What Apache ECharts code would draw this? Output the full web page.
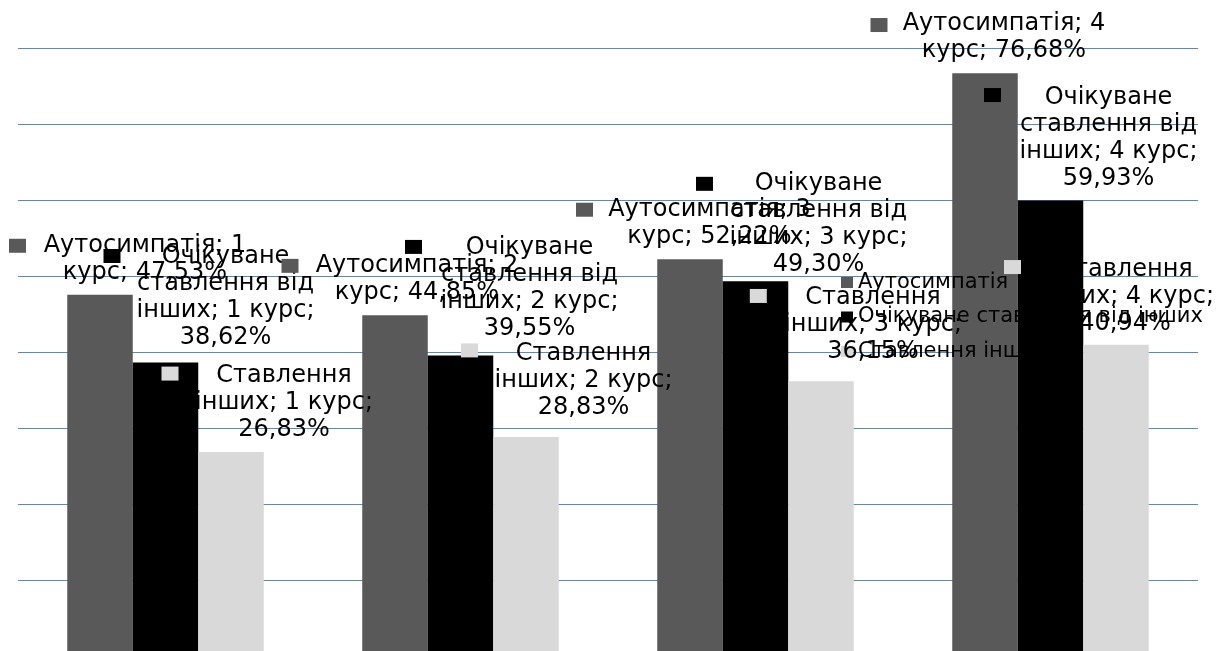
<!DOCTYPE html>
<html>
<head>
<meta charset="utf-8">
<script src="https://cdn.jsdelivr.net/npm/echarts@6/dist/echarts.min.js"></script>
<style>
  html, body { margin: 0; padding: 0; background: #fff; }
  #chart { width: 1219px; height: 651px; }
</style>
</head>
<body>
<div id="chart"></div>
<script>
// Курси (категорії)
const categories = ['1 курс', '2 курс', '3 курс', '4 курс'];

// Назви показників
const seriesNames = ['Аутосимпатія', 'Очікуване ставлення від інших', 'Ставлення інших'];

// Значення, %
const autosympathy = [47.53, 44.85, 52.22, 76.68];
const expectedAttitude = [38.62, 39.55, 49.30, 59.93];
const othersAttitude = [26.83, 28.83, 36.15, 40.94];

const seriesValues = [autosympathy, expectedAttitude, othersAttitude];
const seriesColors = ['#595959', '#000000', '#d9d9d9'];

// Зсуви підписів даних відносно верхнього краю стовпця [dx, dy], px
const labelOffsets = [
  [[45, -8.5], [22, -8.5], [19.5, -8.5], [19, -8.5]],
  [[60, -11.5], [69, -13], [63, -3.5], [58, -8]],
  [[53, -9], [57.5, -15.5], [52, -15.5], [9, -7.5]]
];
// Зсуви квадратиків-ключів підписів [dx, dy], px
const keyOffsets = [
  [[-82.5, -42], [-105, -42.3], [-105.5, -42.4], [-106, -41.2]],
  [[-53.5, -99.5], [-47, -101.5], [-51, -90.5], [-58, -98.5]],
  [[-61, -71.5], [-56.5, -79.5], [-62.7, -78.3], [-103.5, -70.8]]
];

const FONT = 'DejaVu Sans';
const BAR_W = 65.5;
const TEXT_COLOR = '#000000';
const GRID_COLOR = '#5987c7';

function fmtValue(v) {
  return v.toFixed(2).replace('.', ',') + '%';
}

// Перенесення рядка за словами (до maxChars символів у рядку)
function wrap(text, maxChars) {
  const words = text.split(' ');
  const lines = [];
  let cur = '';
  for (const w of words) {
    if (!cur) cur = w;
    else if ((cur + ' ' + w).length <= maxChars) cur += ' ' + w;
    else { lines.push(cur); cur = w; }
  }
  if (cur) lines.push(cur);
  return lines.join('\n');
}

const series = [];

// Стовпці
seriesValues.forEach((vals, s) => {
  series.push({
    name: seriesNames[s],
    type: 'bar',
    xAxisIndex: 0,
    barWidth: BAR_W,
    barGap: '0%',
    z: 2,
    itemStyle: { color: seriesColors[s] },
    data: vals
  });
});

// Текст підписів даних
seriesValues.forEach((vals, s) => {
  series.push({
    name: seriesNames[s] + ' — підписи',
    type: 'bar',
    xAxisIndex: 1,
    barWidth: BAR_W,
    barGap: '0%',
    z: 4,
    silent: true,
    itemStyle: { color: 'rgba(0,0,0,0)' },
    label: {
      show: true,
      position: 'top',
      distance: 0,
      fontFamily: FONT,
      fontSize: 24,
      lineHeight: 27,
      color: TEXT_COLOR,
      align: 'center',
      formatter: p => wrap(seriesNames[s] + '; ' + categories[p.dataIndex] + '; ' + fmtValue(p.value), 15)
    },
    data: vals.map((v, i) => ({ value: v, label: { offset: labelOffsets[s][i] } }))
  });
});

// Квадратики-ключі підписів
seriesValues.forEach((vals, s) => {
  series.push({
    name: seriesNames[s] + ' — ключі',
    type: 'bar',
    xAxisIndex: 2,
    barWidth: BAR_W,
    barGap: '0%',
    z: 5,
    silent: true,
    itemStyle: { color: 'rgba(0,0,0,0)' },
    label: {
      show: true,
      position: 'top',
      distance: 0,
      lineHeight: 14,
      formatter: '{k|}',
      rich: { k: { width: 17, height: 14, lineHeight: 14, backgroundColor: seriesColors[s] } }
    },
    data: vals.map((v, i) => ({ value: v, label: { offset: keyOffsets[s][i] } }))
  });
});

const hiddenX = () => ({
  type: 'category',
  data: categories,
  gridIndex: 0,
  show: false
});

const chart = echarts.init(document.getElementById('chart'), null, { renderer: 'canvas' });
chart.setOption({
  animation: false,
  backgroundColor: '#ffffff',
  grid: {
    left: 18, top: 48, width: 1180, height: 608,
    containLabel: false,
    outerBoundsMode: 'none'
  },
  legend: {
    data: seriesNames,
    orient: 'vertical',
    left: 836,
    top: 267,
    z: 4,
    icon: 'rect',
    itemWidth: 12,
    itemHeight: 11,
    itemGap: 13.5,
    selectedMode: false,
    textStyle: { fontFamily: FONT, fontSize: 21, lineHeight: 20, color: TEXT_COLOR }
  },
  xAxis: [
    {
      type: 'category',
      data: categories,
      axisLine: { show: true, lineStyle: { color: GRID_COLOR } },
      axisTick: { show: false },
      axisLabel: { show: false }
    },
    hiddenX(),
    hiddenX()
  ],
  yAxis: {
    type: 'value',
    min: 0,
    max: 80,
    interval: 10,
    axisLine: { show: false },
    axisTick: { show: false },
    axisLabel: { show: false },
    splitLine: { show: true, lineStyle: { color: GRID_COLOR, width: 1 } }
  },
  series: series
});
</script>
</body>
</html>
